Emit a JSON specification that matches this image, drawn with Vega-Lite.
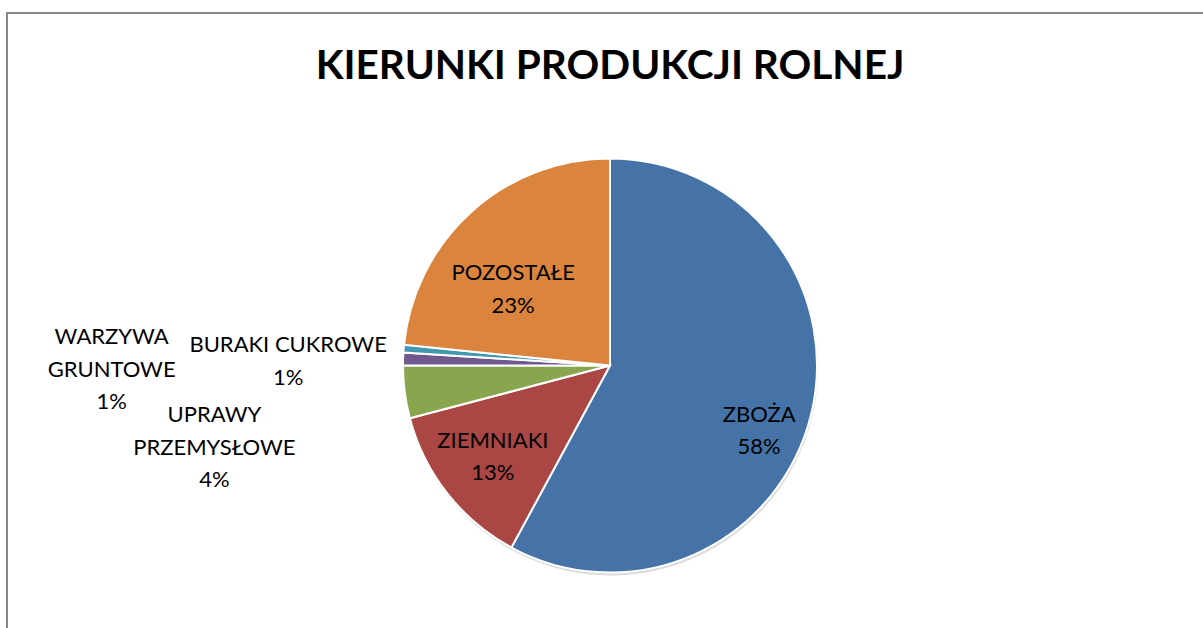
{
  "$schema": "https://vega.github.io/schema/vega-lite/v6.json",
  "width": 1206,
  "height": 705,
  "autosize": {"type": "none"},
  "padding": {"left": 7, "top": 13, "right": 0, "bottom": 0},
  "background": "white",
  "view": {"stroke": "#878787", "strokeWidth": 2, "fill": "white"},
  "title": {
    "text": "KIERUNKI PRODUKCJI ROLNEJ",
    "font": "Lato",
    "fontSize": 40.6,
    "fontWeight": "bold",
    "color": "black",
    "anchor": "middle",
    "orient": "top",
    "baseline": "alphabetic",
    "offset": -68,
    "dy": 53
  },
  "config": {"view": {"stroke": "#878787", "strokeWidth": 2}},
  "data": {
    "values": [
      {"kolejnosc": 1, "nazwa": "ZBOŻA", "etykieta": "ZBOŻA", "udzial": 57.9},
      {"kolejnosc": 2, "nazwa": "ZIEMNIAKI", "etykieta": "ZIEMNIAKI", "udzial": 13.0},
      {"kolejnosc": 3, "nazwa": "UPRAWY PRZEMYSŁOWE", "etykieta": "UPRAWY\nPRZEMYSŁOWE", "udzial": 4.1},
      {"kolejnosc": 4, "nazwa": "BURAKI CUKROWE", "etykieta": "BURAKI CUKROWE", "udzial": 1.0},
      {"kolejnosc": 5, "nazwa": "WARZYWA GRUNTOWE", "etykieta": "WARZYWA\nGRUNTOWE", "udzial": 0.6},
      {"kolejnosc": 6, "nazwa": "POZOSTAŁE", "etykieta": "POZOSTAŁE", "udzial": 23.4}
    ]
  },
  "transform": [
    {"calculate": "datum.etykieta + '\\n' + format(datum.udzial, '.0f') + '%'", "as": "napis"}
  ],
  "encoding": {
    "theta": {"field": "udzial", "type": "quantitative", "stack": true},
    "order": {"field": "kolejnosc", "type": "quantitative"}
  },
  "layer": [
    {
      "mark": {"type": "arc", "radius": 207, "fill": "#9a9a9a", "opacity": 0.35, "yOffset": 3, "xOffset": 1}
    },
    {
      "mark": {"type": "arc", "radius": 207, "stroke": "white", "strokeWidth": 2},
      "encoding": {
        "color": {
          "field": "nazwa",
          "type": "nominal",
          "scale": {
            "domain": ["ZBOŻA", "ZIEMNIAKI", "UPRAWY PRZEMYSŁOWE", "BURAKI CUKROWE", "WARZYWA GRUNTOWE", "POZOSTAŁE"],
            "range": ["#4572A7", "#AA4643", "#89A54E", "#71588F", "#4198AF", "#DB843D"]
          },
          "legend": null
        }
      }
    },
    {
      "mark": {"type": "text", "radius": 160, "dx": -6, "dy": 10, "font": "Lato", "fontSize": 22, "color": "black", "lineBreak": "\n", "lineHeight": 32.5, "baseline": "middle", "align": "center"},
      "encoding": {"text": {"condition": {"test": "datum.kolejnosc === 1", "field": "napis"}, "value": ""}}
    },
    {
      "mark": {"type": "text", "radius": 149, "dy": -17, "font": "Lato", "fontSize": 22, "color": "black", "lineBreak": "\n", "lineHeight": 32.5, "baseline": "middle", "align": "center"},
      "encoding": {"text": {"condition": {"test": "datum.kolejnosc === 2", "field": "napis"}, "value": ""}}
    },
    {
      "mark": {"type": "text", "radius": 403, "dx": 4, "dy": -2, "font": "Lato", "fontSize": 22, "color": "black", "lineBreak": "\n", "lineHeight": 32.5, "baseline": "middle", "align": "center"},
      "encoding": {"text": {"condition": {"test": "datum.kolejnosc === 3", "field": "napis"}, "value": ""}}
    },
    {
      "mark": {"type": "text", "radius": 322, "dy": -10, "font": "Lato", "fontSize": 22, "color": "black", "lineBreak": "\n", "lineHeight": 32.5, "baseline": "middle", "align": "center"},
      "encoding": {"text": {"condition": {"test": "datum.kolejnosc === 4", "field": "napis"}, "value": ""}}
    },
    {
      "mark": {"type": "text", "radius": 496, "dx": -4, "dy": 12, "font": "Lato", "fontSize": 22, "color": "black", "lineBreak": "\n", "lineHeight": 32.5, "baseline": "middle", "align": "center"},
      "encoding": {"text": {"condition": {"test": "datum.kolejnosc === 5", "field": "napis"}, "value": ""}}
    },
    {
      "mark": {"type": "text", "radius": 122, "dx": -15, "dy": -2, "font": "Lato", "fontSize": 22, "color": "black", "lineBreak": "\n", "lineHeight": 32.5, "baseline": "middle", "align": "center"},
      "encoding": {"text": {"condition": {"test": "datum.kolejnosc === 6", "field": "napis"}, "value": ""}}
    }
  ]
}
